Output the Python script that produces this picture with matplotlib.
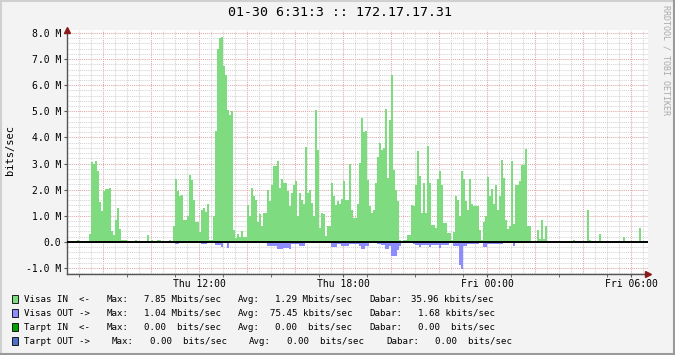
#Importing libraries
import numpy as np
import matplotlib.pyplot as plt
from matplotlib.patches import Rectangle
from matplotlib.lines import Line2D

plt.rcParams['font.family'] = ['DejaVu Sans Mono', 'DejaVu Sans']

#Data: 5 minute samples starting Thu 06:30, values in Mbits/sec
start_hour = 6.5
step_min = 5

visas_in = [
    0, 0, 0, 0, 0, 0.09, 0, 0.05, 0.05, 0,
    0.05, 0.3, 3.07, 3.0, 3.11, 2.7, 1.52, 1.2, 1.94, 2.04,
    2.04, 2.07, 0.43, 0.28, 0.85, 1.3, 0.51, 0.09, 0.09, 0.09,
    0.05, 0, 0, 0, 0.08, 0, 0.05, 0, 0, 0,
    0.27, 0, 0.08, 0, 0, 0.08, 0.08, 0, 0, 0,
    0, 0.08, 0, 0.6, 2.39, 1.96, 1.75, 1.79, 0.85, 0.82,
    1.0, 2.58, 2.36, 1.62, 0.75, 0.75, 0.37, 1.24, 1.3, 1.14,
    1.47, 0.06, 0.06, 0.98, 4.26, 7.4, 7.82, 7.85, 6.72, 6.4,
    5.06, 4.85, 5.0, 0.47, 0.15, 0.32, 0.19, 0.41, 0.19, 0.17,
    1.4, 0.98, 2.07, 1.75, 1.62, 0.75, 1.08, 0.6, 1.12, 1.12,
    2.0, 1.56, 2.19, 2.9, 2.92, 3.11, 2.07, 2.39, 2.26, 2.26,
    1.94, 1.36, 1.87, 2.19, 2.35, 0.98, 1.87, 1.62, 1.45, 3.62,
    1.87, 2.0, 1.49, 1.0, 5.04, 3.53, 0.54, 1.11, 1.08, 0.22,
    0.6, 0.6, 2.26, 1.77, 1.4, 1.56, 1.47, 1.65, 2.32, 1.62,
    1.6, 3.0, 1.24, 0.92, 0.92, 1.47, 3.02, 4.74, 4.2, 4.23,
    2.36, 1.36, 1.11, 1.24, 2.26, 3.25, 3.79, 3.53, 3.6, 5.09,
    2.45, 4.68, 6.38, 2.77, 2.0, 1.56, 0.09, 0, 0.09, 0.09,
    0.28, 0.28, 1.43, 1.36, 2.16, 3.47, 2.51, 1.11, 2.26, 1.11,
    3.69, 2.26, 0.66, 0.66, 0.54, 2.39, 2.7, 2.19, 0.73, 0.73,
    0.34, 0.34, 0.09, 0.37, 1.77, 1.6, 0.98, 2.7, 2.39, 1.56,
    1.21, 2.39, 1.47, 1.39, 1.36, 1.36, 0.45, 0.06, 0.75, 0.98,
    2.49, 1.77, 2.03, 1.47, 2.19, 1.21, 1.75, 3.15, 2.45, 0.85,
    0.5, 0.62, 3.09, 0.7, 2.19, 2.19, 2.32, 2.96, 2.96, 3.56,
    0.6, 0.6, 0, 0, 0, 0.45, 0.11, 0.85, 0.11, 0.6,
    0, 0.05, 0, 0, 0, 0, 0, 0, 0, 0,
    0.05, 0, 0, 0.09, 0, 0, 0, 0, 0, 0,
    1.24, 0.09, 0, 0, 0, 0, 0.32, 0.05, 0, 0,
    0, 0, 0, 0, 0.05, 0, 0, 0, 0.17, 0,
    0, 0, 0, 0, 0, 0, 0.55, 0.05, 0, 0,
]

visas_out = [
    0, 0, 0, 0, 0, 0, 0, 0, 0, 0,
    0, 0, 0.05, 0.05, 0.05, 0.05, 0, 0, 0, 0,
    0, 0.04, 0.04, 0, 0, 0, 0, 0, 0, 0,
    0, 0, 0, 0, 0, 0, 0, 0, 0, 0,
    0, 0, 0, 0, 0, 0, 0, 0, 0, 0,
    0, 0, 0, 0.04, 0.1, 0.1, 0, 0.04, 0.04, 0,
    0, 0.04, 0.04, 0.04, 0.04, 0, 0, 0.08, 0.08, 0.08,
    0, 0, 0, 0, 0.13, 0.13, 0.13, 0.19, 0, 0.04,
    0.25, 0, 0, 0, 0, 0, 0, 0, 0, 0,
    0, 0, 0, 0.04, 0.04, 0, 0, 0.04, 0, 0.01,
    0.17, 0.17, 0.17, 0.17, 0.17, 0.29, 0.29, 0.29, 0.23, 0.23,
    0.23, 0.29, 0.1, 0.1, 0.1, 0.1, 0.17, 0.17, 0.17, 0.06,
    0.06, 0.06, 0.06, 0.04, 0, 0, 0, 0, 0, 0,
    0, 0, 0.2, 0.2, 0.2, 0.1, 0.1, 0.14, 0.14, 0.14,
    0.14, 0.1, 0.1, 0.1, 0.1, 0.1, 0.17, 0.29, 0.29, 0.17,
    0.17, 0, 0.01, 0.01, 0.01, 0.08, 0.08, 0.12, 0.12, 0.29,
    0.29, 0.17, 0.55, 0.55, 0.55, 0.32, 0.17, 0.06, 0, 0,
    0.04, 0.04, 0.04, 0.1, 0.12, 0.12, 0.19, 0.12, 0.12, 0.12,
    0.12, 0.2, 0.12, 0.12, 0.12, 0.12, 0.24, 0.13, 0.13, 0.13,
    0.13, 0.06, 0, 0.17, 0.17, 0.14, 0.87, 1.04, 0.17, 0.17,
    0.1, 0.1, 0.1, 0.1, 0.1, 0.1, 0, 0.06, 0.2, 0.2,
    0.1, 0.09, 0.09, 0.09, 0.09, 0.09, 0.09, 0.09, 0.06, 0.06,
    0.06, 0.06, 0.06, 0.14, 0.04, 0.04, 0.04, 0.04, 0.04, 0.04,
] + [0] * 60

x_ticks = [12, 18, 24, 30]
x_labels = ['Thu 12:00', 'Thu 18:00', 'Fri 00:00', 'Fri 06:00']
y_ticks = [-1, 0, 1, 2, 3, 4, 5, 6, 7, 8]
y_labels = ['-1.0 M', '0.0', '1.0 M', '2.0 M', '3.0 M', '4.0 M', '5.0 M', '6.0 M', '7.0 M', '8.0 M']

legend_names = ['Visas IN  <-', 'Visas OUT ->', 'Tarpt IN  <-', 'Tarpt OUT ->']
legend_max = ['7.85 Mbits/sec', '1.04 Mbits/sec', '0.00  bits/sec', '0.00  bits/sec']
legend_avg = ['1.29 Mbits/sec', '75.45 kbits/sec', '0.00  bits/sec', '0.00  bits/sec']
legend_cur = ['35.96 kbits/sec', '1.68 kbits/sec', '0.00  bits/sec', '0.00  bits/sec']
legend_colors = ['#7FDB7F', '#8C8CFF', '#00A000', '#4F6FC8']

#Figure
W, H = 675, 355
fig = plt.figure(figsize=(W / 100, H / 100), dpi=100, facecolor='#F3F3F3')

def fx(x):
    return x / W

def fy(y):
    return 1 - y / H

ax = fig.add_axes([fx(67), fy(274), (648 - 67) / W, (274 - 30) / H])
ax.set_facecolor('white')

edges = start_hour + np.arange(len(visas_in) + 1) * step_min / 60
ax.stairs(visas_in, edges, baseline=0, fill=True, color='#7FDB7F', linewidth=0, zorder=2)
ax.stairs(-np.array(visas_out), edges, baseline=0, fill=True, color='#8C8CFF', linewidth=0, zorder=2)

ax.set_xlim(6.5, 6.5 + 581 / 24)
ax.set_ylim(-1.23, 8.115)

#Grid lines (minor grey, major red)
for h in np.arange(7.0, 30.8, 0.5):
    if abs(h / 2 - round(h / 2)) < 1e-6:
        ax.axvline(h, color='#E0A8A8', lw=0.75, ls=(0, (1, 1)), zorder=0.5)
    else:
        ax.axvline(h, color='#D3D3D3', lw=0.75, ls=(0, (1, 1)), zorder=0.5)
for v in np.arange(-1.2, 8.11, 0.2):
    if abs(v - round(v)) < 1e-6:
        ax.axhline(v, color='#E0A8A8', lw=0.75, ls=(0, (1, 1)), zorder=0.5)
    else:
        ax.axhline(v, color='#D3D3D3', lw=0.75, ls=(0, (1, 1)), zorder=0.5)

ax.axhline(0, color='black', lw=1.4, zorder=3)

#Axes and ticks
for s in ['top', 'right']:
    ax.spines[s].set_visible(False)
for s in ['left', 'bottom']:
    ax.spines[s].set_color('#555555')
    ax.spines[s].set_linewidth(1.0)
ax.set_xticks(x_ticks)
ax.set_xticklabels(x_labels, fontsize=7)
ax.set_xticks(np.arange(7.0, 30.8, 2), minor=True)
ax.set_yticks(y_ticks)
ax.set_yticklabels(y_labels, fontsize=7)
ax.tick_params(axis='both', which='both', length=2, color='#555555', pad=2)
ax.tick_params(axis='x', pad=1.5)

ax.plot(0, 1, marker='^', color='#8B1A1A', markersize=5, transform=ax.transAxes, clip_on=False, zorder=5)
ax.plot(1, 0, marker='>', color='#8B1A1A', markersize=5, transform=ax.transAxes, clip_on=False, zorder=5)

#Texts
fig.text(fx(340), fy(13), '01-30 6:31:3 :: 172.17.17.31', fontsize=9.5, ha='center', va='center')
fig.text(fx(10), fy(150), 'bits/sec', fontsize=7.5, rotation=90, ha='center', va='center')
fig.text(fx(666), fy(5), 'RRDTOOL / TOBI OETIKER', fontsize=6, rotation=270, ha='center', va='top', color='#AAAAAA')

#Legend
rows_y = [299, 313, 327, 341]
cols = [[107, 144, 238, 275, 369, 411],
        [107, 144, 238, 270, 369, 418],
        [107, 144, 238, 275, 369, 418],
        [112, 150, 249, 287, 386, 435]]
for i in range(4):
    y = rows_y[i]
    fig.add_artist(Rectangle((fx(12), fy(y + 4)), 6 / W, 8 / H, transform=fig.transFigure,
                             facecolor=legend_colors[i], edgecolor='black', linewidth=0.6))
    fs = 6.6
    c = cols[i]
    fig.text(fx(24), fy(y), legend_names[i], fontsize=fs, va='center')
    fig.text(fx(c[0]), fy(y), 'Max:', fontsize=fs, va='center')
    fig.text(fx(c[1]), fy(y), legend_max[i], fontsize=fs, va='center')
    fig.text(fx(c[2]), fy(y), 'Avg:', fontsize=fs, va='center')
    fig.text(fx(c[3]), fy(y), legend_avg[i], fontsize=fs, va='center')
    fig.text(fx(c[4]), fy(y), 'Dabar:', fontsize=fs, va='center')
    fig.text(fx(c[5]), fy(y), legend_cur[i], fontsize=fs, va='center')

#Frame around the image
fig.add_artist(Line2D([0, 1], [0.998, 0.998], color='#D0D0D0', lw=1.5, transform=fig.transFigure))
fig.add_artist(Line2D([0.0015, 0.0015], [0, 1], color='#D0D0D0', lw=1.5, transform=fig.transFigure))
fig.add_artist(Line2D([0, 1], [0.003, 0.003], color='#999999', lw=1.5, transform=fig.transFigure))
fig.add_artist(Line2D([0.998, 0.998], [0, 1], color='#999999', lw=1.5, transform=fig.transFigure))

plt.savefig('out.png', dpi=100, facecolor=fig.get_facecolor())
